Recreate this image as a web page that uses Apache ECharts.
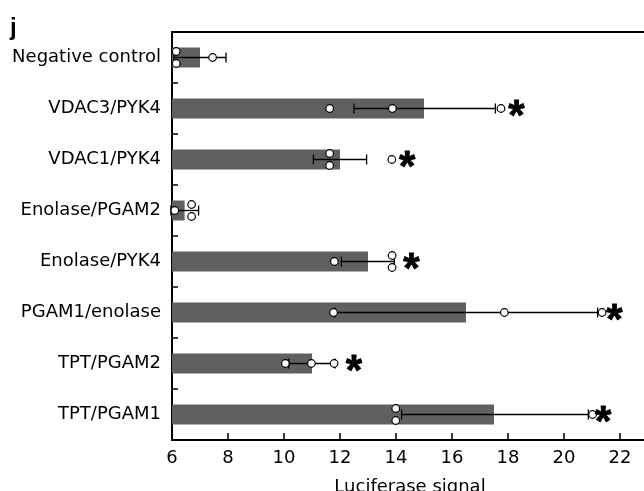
<!DOCTYPE html>
<html><head><meta charset="utf-8">
<script src="https://cdn.jsdelivr.net/npm/echarts@6/dist/echarts.min.js"></script>
<style>html,body{margin:0;padding:0;background:#fff}#c{width:644px;height:491px}</style>
</head><body><div id="c"></div>
<script>
const categories = ['Negative control','VDAC3/PYK4','VDAC1/PYK4','Enolase/PGAM2','Enolase/PYK4','PGAM1/enolase','TPT/PGAM2','TPT/PGAM1'];
const means    = [7.0, 15.0, 12.0, 6.45, 13.0, 16.5, 11.0, 17.5];
const errLow   = [6.07, 12.5, 11.05, 5.96, 12.05, 11.82, 10.17, 14.2];
const errHigh  = [7.93, 17.55, 12.95, 6.95, 13.94, 21.2, 11.83, 20.87];
const replicateA = [6.15, 11.63, 11.63, 6.1, 11.8, 11.77, 10.05, 13.99];
const replicateB = [6.15, 13.87, 11.63, 6.7, 13.86, 17.87, 10.98, 13.99];
const replicateC = [7.45, 17.75, 13.85, 6.7, 13.86, 21.36, 11.79, 21.02];
const starValues = [null, 18.3, 14.4, null, 14.55, 21.8, 12.5, 21.4];
const xTicks = {min: 6, max: 23, interval: 2};
const xTitle = 'Luciferase signal';
const panelLabel = 'j';

const FONT = 'DejaVu Sans';
const chart = echarts.init(document.getElementById('c'), null, {renderer: 'canvas'});

const pointData = [];
categories.forEach((c, i) => {
  const vals = [replicateA[i], replicateB[i], replicateC[i]];
  vals.forEach((v, k) => {
    const same = vals.map((w, j) => j).filter(j => Math.abs(vals[j] - v) < 0.05);
    let off = 0;
    if (same.length > 1) { const r = same.indexOf(k); off = (r - (same.length - 1) / 2) * 12; }
    pointData.push([v, i, off]);
  });
});
const errData = categories.map((c, i) => [errLow[i], errHigh[i], i]);
const starData = [];
starValues.forEach((v, i) => { if (v != null) starData.push([v, i]); });

chart.setOption({
  animation: false,
  title: {text: panelLabel, left: 5, top: 11, textStyle: {fontFamily: 'Liberation Sans', fontWeight: 'bold', fontSize: 24, color: '#000'}},
  grid: {left: 172, right: -4, top: 32, bottom: 51, show: true, borderColor: '#000', borderWidth: 2,
    outerBoundsMode: 'none', containLabel: false},
  xAxis: {
    type: 'value', min: xTicks.min, max: xTicks.max, interval: xTicks.interval,
    axisLine: {show: true, lineStyle: {color: '#000', width: 2}},
    axisTick: {show: true, inside: true, length: 7, lineStyle: {color: '#000', width: 1.5}},
    axisLabel: {color: '#000', fontSize: 18, fontFamily: FONT, margin: 9, showMaxLabel: false},
    splitLine: {show: false},
    name: xTitle, nameLocation: 'middle', nameGap: 38,
    nameTextStyle: {color: '#000', fontSize: 18, fontFamily: FONT}
  },
  yAxis: {
    type: 'category', data: categories, inverse: true,
    axisLine: {show: true, lineStyle: {color: '#000', width: 2}},
    axisTick: {show: true, inside: true, length: 6, lineStyle: {color: '#000', width: 1.5}},
    axisLabel: {color: '#000', fontSize: 18, fontFamily: FONT, margin: 11},
    splitLine: {show: false}
  },
  series: [
    {type: 'bar', data: means, barWidth: 20, itemStyle: {color: '#606060'}, z: 2},
    {type: 'custom', z: 3, data: errData, encode: {x: [0, 1], y: 2},
      renderItem: (params, api) => {
        const lo = api.coord([api.value(0), api.value(2)]);
        const hi = api.coord([api.value(1), api.value(2)]);
        const h = 5, st = {stroke: '#000', lineWidth: 1.3};
        return {type: 'group', children: [
          {type: 'line', shape: {x1: lo[0], y1: lo[1], x2: hi[0], y2: hi[1]}, style: st},
          {type: 'line', shape: {x1: lo[0], y1: lo[1] - h, x2: lo[0], y2: lo[1] + h}, style: st},
          {type: 'line', shape: {x1: hi[0], y1: hi[1] - h, x2: hi[0], y2: hi[1] + h}, style: st}
        ]};
      }},
    {type: 'custom', z: 4, data: pointData, encode: {x: 0, y: 1},
      renderItem: (params, api) => {
        const p = api.coord([api.value(0), api.value(1)]);
        return {type: 'circle', shape: {cx: p[0], cy: p[1] + api.value(2), r: 3.8},
          style: {fill: '#fff', stroke: '#000', lineWidth: 1.2}};
      }},
    {type: 'custom', z: 5, data: starData, encode: {x: 0, y: 1},
      renderItem: (params, api) => {
        const p = api.coord([api.value(0), api.value(1)]);
        return {type: 'text', x: p[0], y: p[1] + 9,
          style: {text: '*', fontFamily: 'Liberation Sans', fontWeight: 'bold', fontSize: 42,
            fill: '#000', stroke: '#000', lineWidth: 0.8, align: 'center', verticalAlign: 'middle'}};
      }}
  ]
});
</script></body></html>
